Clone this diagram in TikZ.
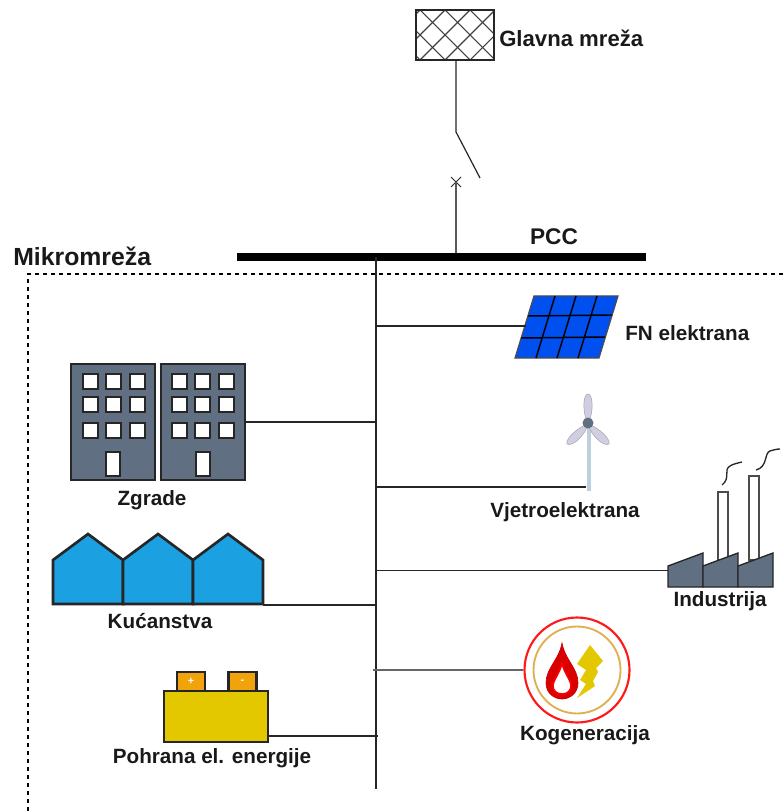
\documentclass[tikz,border=0pt]{standalone}
\usepackage{fontspec}
\setmainfont{Liberation Sans}
\usetikzlibrary{positioning}
\definecolor{slate}{RGB}{96,112,130}
\definecolor{roofblue}{RGB}{27,160,225}
\definecolor{panelblue}{RGB}{0,80,239}
\definecolor{battyellow}{RGB}{227,200,0}
\definecolor{battorange}{RGB}{240,163,10}
\definecolor{towerblue}{RGB}{190,208,220}
\definecolor{bladelilac}{RGB}{208,206,226}
\definecolor{ringgold}{RGB}{222,176,80}
\tikzset{boxsize/.style 2 args={minimum width=#1*0.75pt, minimum height=#2*0.75pt}}
\tikzstyle{label} = [font=\bfseries\fontsize{15.5}{18}\selectfont, text=black!90, inner sep=0pt]
\tikzstyle{line} = [draw=black!85, line width=.9pt]
\tikzstyle{block} = [draw=black!85, rectangle, inner sep=0pt, line width=1.2pt]
\tikzstyle{tower} = [block, fill=slate, boxsize={84}{116}]
\tikzstyle{win} = [block, fill=white, line width=1.5pt, boxsize={15}{15}]
\tikzstyle{door} = [block, fill=white, line width=1.5pt, boxsize={14}{24}]
\tikzstyle{blade} = [draw=gray!70, fill=bladelilac, line width=.4pt]
\tikzstyle{flue} = [draw=black!70, fill=white, line width=1.1pt]
\tikzstyle{smoke} = [draw=black!85, line width=1pt]
\tikzstyle{terminal} = [block, fill=battorange, boxsize={28}{19}, text=white, font=\bfseries\footnotesize]

\begin{document}
\begin{tikzpicture}[x=0.75pt,y=-0.75pt]
      \useasboundingbox (0,0) rectangle (783,812);

      % bus and main feeder
      \node [fill=black, inner sep=0pt, boxsize={409}{8}] (bus) at (441.5,257) {};
      \node [label, font=\bfseries\fontsize{17}{20}\selectfont] at (554,237) (pcc) {PCC};
      \node [label, anchor=west, font=\bfseries\fontsize{18.6}{22}\selectfont] at (13,256) (microgrid) {Mikromreža};
      \coordinate (feeder_end) at (376,789);
      \draw [line] (feeder_end |- bus) -- (feeder_end);

      % microgrid border
      \draw [dashed, line width=.8pt] (783,274) -- (28,274) -- (28,812);

      % main grid and switch
      \node [block, line width=1.8pt, boxsize={78}{50},
          path picture={
            \foreach \i in {-4,...,4}{
              \draw [black!75, line width=.8pt] (\i*25-40,-30) -- ++(60,60);
              \draw [black!75, line width=.8pt] (\i*25-40,30) -- ++(60,-60);
            }}] at (455,35) (grid) {};
      \node [label, anchor=west, font=\bfseries\fontsize{16.6}{20}\selectfont] at (499,38) (grid_label) {Glavna mreža};
      \coordinate (switch_top) at (456,132);
      \coordinate (switch_end) at (480,178);
      \coordinate (breaker) at (456,182);
      \draw [line] (grid.south -| switch_top) -- (switch_top) -- (switch_end);
      \draw [line, line width=.7pt] (451,177) -- (461,187) (461,177) -- (451,187);
      \draw [line, black!65] (breaker) -- (breaker |- bus.north);

      % solar panel
      \draw [fill=panelblue, draw=black!70, line width=.9pt] (534,296) -- (618,296) -- (599,358) -- (515,358) -- cycle;
      \foreach \i in {1,2,3}
          \draw [black, line width=1.1pt] (534+\i*21,296) -- (515+\i*21,358);
      \draw [black, line width=1.1pt] (528,316) -- (612,315) (521,338) -- (605,337);
      \coordinate (pv) at (525.5,326);
      \node [label, anchor=west] at (625,333) (pv_label) {FN elektrana};
      \draw [line] (pv) -- (pv -| feeder_end);

      % wind turbine
      \node [fill=towerblue, inner sep=0pt, boxsize={4}{67}] (mast) at (589,457.5) {};
      \draw [blade] (588,424) .. controls (582,412) and (583,394) .. (588,394) .. controls (593,394) and (594,412) .. (588,424) -- cycle;
      \draw [blade] (588,424) .. controls (576,428) and (565,440) .. (567,444) .. controls (572,447) and (585,436) .. (588,424) -- cycle;
      \draw [blade] (588,424) .. controls (600,428) and (611,440) .. (609,444) .. controls (604,447) and (591,436) .. (588,424) -- cycle;
      \node [circle, fill=slate, inner sep=0pt, boxsize={11}{11}] (hub) at (588,423) {};
      \node [label] at (565,512) (wind_label) {Vjetroelektrana};
      \coordinate (wind_tap) at (586,487);
      \draw [line] (wind_tap) -- (wind_tap -| feeder_end);

      % buildings
      \node [tower] at (113,422) (zgrada_a) {};
      \node [tower] at (203,422) (zgrada_b) {};
      \foreach \b in {113,202.5} {
        \foreach \r in {381,404,430} {
          \node [win] at (\b-23,\r) {};
          \node [win] at (\b,\r) {};
          \node [win] at (\b+24,\r) {};
        }
        \node [door] at (\b,464) {};
      }
      \node [label] at (152,500) (zgrada_label) {Zgrade};
      \draw [line] (zgrada_b.east) -- (zgrada_b.east -| feeder_end);

      % houses
      \draw [block, fill=roofblue, line width=2pt] (53,604) -- (53,560) -- (88,534) -- (123,560) -- (123,604) -- cycle;
      \draw [block, fill=roofblue, line width=2pt] (123,604) -- (123,560) -- (158,534) -- (193,560) -- (193,604) -- cycle;
      \draw [block, fill=roofblue, line width=2pt] (193,604) -- (193,560) -- (228,534) -- (263,560) -- (263,604) -- cycle;
      \coordinate (houses) at (263,605);
      \node [label] at (160,621) (houses_label) {Kućanstva};
      \draw [line] (houses) -- (houses -| feeder_end);

      % factory
      \draw [flue] (718,492) rectangle (728,560);
      \draw [flue] (749,476) rectangle (759,560);
      \draw [smoke] (722,485) .. controls (731,478) and (723,470) .. (730,466) .. controls (733,464) and (738,463) .. (742,462);
      \draw [smoke] (756,470) .. controls (768,467) and (764,453) .. (770,451) .. controls (773,450) and (777,449) .. (780,449);
      \foreach \x in {668,703,738}
          \draw [fill=slate, draw=black!85, line width=1pt] (\x,566) -- (\x+35,553) -- (\x+35,587) -- (\x,587) -- cycle;
      \coordinate (factory) at (668,570.5);
      \node [label] at (720,601) (factory_label) {Industrija};
      \draw [line] (factory) -- (factory -| feeder_end);

      % chp
      \node [circle, draw=red!90, fill=white, line width=1.6pt, boxsize={105}{105}, inner sep=0pt] (chp) at (577,670) {};
      \node [circle, draw=ringgold, line width=1.4pt, boxsize={87}{87}, inner sep=0pt] at (577,670) (chp_ring) {};
      \draw [fill=red!85!black, draw=red!80!black, line width=.5pt] (562,643) .. controls (565,660) and (578,668) .. (578,683) .. controls (578,693) and (570,699) .. (562,699) .. controls (554,699) and (546,693) .. (546,683) .. controls (546,668) and (559,660) .. (562,643) -- cycle;
      \draw [fill=white, draw=red, line width=1.2pt] (562,663) .. controls (564,673) and (571,680) .. (571,686) .. controls (571,691) and (567,694) .. (562,694) .. controls (557,694) and (553,691) .. (553,686) .. controls (553,680) and (560,673) .. (562,663) -- cycle;
      \fill [battyellow] (590,645) -- (603,661) -- (596,668) -- (598,672) -- (593,681) -- (595,686) -- (577,698) -- (586,684) -- (580,680) -- (586,670) -- (577,664) -- cycle;
      \node [label] at (585,735) (chp_label) {Kogeneracija};
      \draw [line, black!60, line width=1.3pt] (chp.west) -- (373,670);

      % battery
      \node [block, fill=battyellow, boxsize={104}{51}, line width=1.6pt] at (216,716.5) (battery) {};
      \node [terminal, line width=1.6pt] at (191,681.5) (pos) {+};
      \node [terminal, line width=1.6pt] at (242.5,681.5) (neg) {-};
      \node [label] at (212,758) (battery_label) {Pohrana el. energije};
      \coordinate (battery_tap) at (268,736);
      \draw [line] (battery_tap) -- (378,736);
\end{tikzpicture}
\end{document}
